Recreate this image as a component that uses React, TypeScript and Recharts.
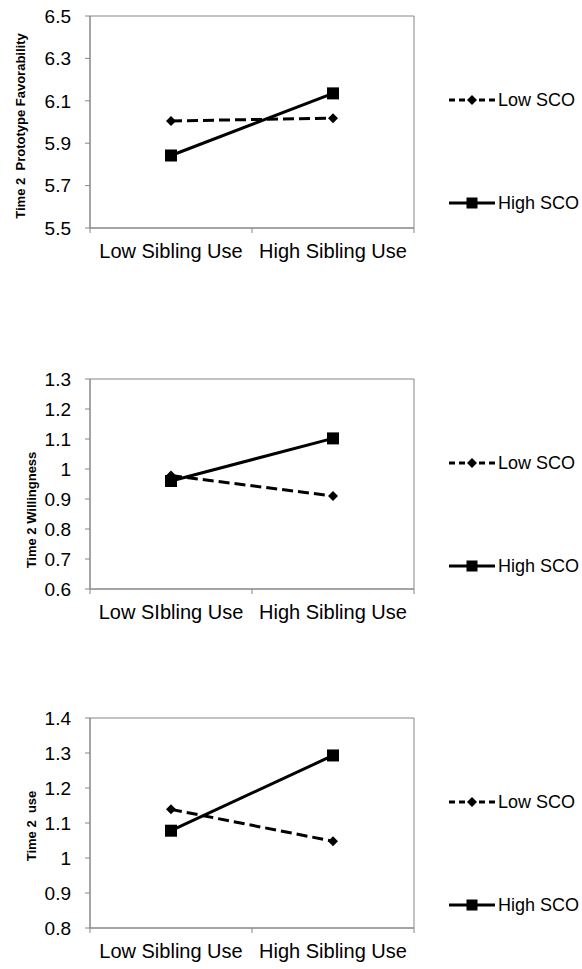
import React from 'react';
import { LineChart, Line, XAxis, YAxis, ReferenceArea, Legend, Label } from 'recharts';

// categories (panel 2 really says "SIbling" in the source)
const favCategories = ['Low Sibling Use', 'High Sibling Use'];
const willCategories = ['Low SIbling Use', 'High Sibling Use'];
const useCategories = ['Low Sibling Use', 'High Sibling Use'];

const seriesNames = ['Low SCO', 'High SCO'];

// series values
const favLowSco = [6.005, 6.018];
const favHighSco = [5.842, 6.135];
const willLowSco = [0.978, 0.91];
const willHighSco = [0.96, 1.102];
const useLowSco = [1.139, 1.048];
const useHighSco = [1.078, 1.293];

// tick labels
const favTicks = [5.5, 5.7, 5.9, 6.1, 6.3, 6.5];
const willTicks = [0.6, 0.7, 0.8, 0.9, 1, 1.1, 1.2, 1.3];
const useTicks = [0.8, 0.9, 1, 1.1, 1.2, 1.3, 1.4];

const FONT = '"Liberation Sans", Arial, Helvetica, sans-serif';
const AXIS = '#868686';
const TICK_SIZE = 5;
const X_TICK_MARGIN = 11;

const buildRows = (cats: string[], low: number[], high: number[]) =>
  cats.map((c, i) => ({ name: c, low: low[i], high: high[i] }));

const Diamond = (props: any) => {
  const { cx, cy } = props;
  if (cx == null || cy == null) return null;
  const r = 5;
  return <path d={`M${cx},${cy - r}L${cx + r},${cy}L${cx},${cy + r}L${cx - r},${cy}Z`} fill="#000" />;
};

const Square = (props: any) => {
  const { cx, cy } = props;
  if (cx == null || cy == null) return null;
  return <rect x={cx - 6} y={cy - 6} width={12} height={12} fill="#000" />;
};

// excel style: label in the middle of the band, tick marks on the band edges
const BandTick = (props: any) => {
  const { x, y, payload, index, width, visibleTicksCount } = props;
  const half = payload?.offset || width / visibleTicksCount / 2;
  const axisY = y - TICK_SIZE - X_TICK_MARGIN;
  return (
    <g>
      <line x1={x - half} x2={x - half} y1={axisY} y2={axisY + TICK_SIZE} stroke={AXIS} />
      {index === visibleTicksCount - 1 && (
        <line x1={x + half} x2={x + half} y1={axisY} y2={axisY + TICK_SIZE} stroke={AXIS} />
      )}
      <text x={x} y={y} dy="0.71em" textAnchor="middle" fontSize={20} fill="#000" fontFamily={FONT}>
        {payload.value}
      </text>
    </g>
  );
};

const fmt = (v: number) => String(Number(v.toFixed(1)));

const LegendBox = () => (
  <div style={{ fontFamily: FONT, fontSize: 18, color: '#000', width: 140 }}>
    {seriesNames.map((name, i) => (
      <div key={name} style={{ display: 'flex', alignItems: 'center', height: 22, marginBottom: i === 0 ? 81 : 0 }}>
        <svg width={48} height={14} style={{ display: 'block' }}>
          <line x1={0} x2={46} y1={7} y2={7} stroke="#000" strokeWidth={3} strokeDasharray={i === 0 ? '6 4' : undefined} />
          {i === 0 ? (
            <path d="M23,2L28,7L23,12L18,7Z" fill="#000" />
          ) : (
            <rect x={17.5} y={1.5} width={11} height={11} fill="#000" />
          )}
        </svg>
        <span style={{ marginLeft: 1, lineHeight: '22px' }}>{name}</span>
      </div>
    ))}
  </div>
);

interface PanelProps {
  top: number;
  plotHeight: number;
  rows: { name: string; low: number; high: number }[];
  ticks: number[];
  title: string;
  titleX: number;
  titleShift: number;
}

const Panel: React.FC<PanelProps> = ({ top, plotHeight, rows, ticks, title, titleX, titleShift }) => {
  const lo = ticks[0];
  const hi = ticks[ticks.length - 1];
  const marginTop = 16;
  return (
    <div style={{ position: 'absolute', left: 0, top }}>
      <LineChart
        width={582}
        height={marginTop + plotHeight + 50}
        data={rows}
        margin={{ top: marginTop, right: 168, bottom: 0, left: 0 }}
      >
        <ReferenceArea y1={lo} y2={hi} stroke={AXIS} fill="none" ifOverflow="visible" />
        <XAxis
          dataKey="name"
          scale="band"
          height={50}
          stroke={AXIS}
          tickLine={false}
          tickSize={TICK_SIZE}
          tickMargin={X_TICK_MARGIN}
          tick={<BandTick />}
          interval={0}
        />
        <YAxis
          width={90}
          type="number"
          domain={[lo, hi]}
          ticks={ticks}
          tickFormatter={fmt}
          stroke={AXIS}
          tickSize={TICK_SIZE}
          tickMargin={14}
          tick={{ fill: '#000', fontSize: 19, fontFamily: FONT }}
          interval={0}
        >
          <Label
            content={(p: any) => {
              const vb = p.viewBox || { y: marginTop, height: plotHeight };
              const cy = vb.y + vb.height / 2 + titleShift;
              return (
                <text
                  x={titleX}
                  y={cy}
                  transform={`rotate(-90 ${titleX} ${cy})`}
                  textAnchor="middle"
                  fontSize={13}
                  fontWeight="bold"
                  fontFamily={FONT}
                  fill="#000"
                  style={{ whiteSpace: 'pre' }}
                >
                  {title}
                </text>
              );
            }}
          />
        </YAxis>
        <Legend
          layout="horizontal"
          align="center"
          verticalAlign="middle"
          content={<LegendBox />}
          wrapperStyle={{ left: 449, top: marginTop + 73, width: 140, height: 130 }}
        />
        <Line
          dataKey="low"
          name={seriesNames[0]}
          stroke="#000"
          strokeWidth={3}
          strokeDasharray="11 5"
          dot={<Diamond />}
          activeDot={false}
          isAnimationActive={false}
        />
        <Line
          dataKey="high"
          name={seriesNames[1]}
          stroke="#000"
          strokeWidth={3}
          dot={<Square />}
          activeDot={false}
          isAnimationActive={false}
        />
      </LineChart>
    </div>
  );
};

export default function App() {
  return (
    <div style={{ position: 'absolute', left: 0, top: 0, width: 582, height: 969, background: '#fff', overflow: 'hidden' }}>
      <Panel
        top={0}
        plotHeight={212}
        rows={buildRows(favCategories, favLowSco, favHighSco)}
        ticks={favTicks}
        title="Time 2  Prototype Favorability"
        titleX={24.5}
        titleShift={4}
      />
      <Panel
        top={363}
        plotHeight={210}
        rows={buildRows(willCategories, willLowSco, willHighSco)}
        ticks={willTicks}
        title="Time 2 Willingness"
        titleX={35.5}
        titleShift={26}
      />
      <Panel
        top={702}
        plotHeight={210}
        rows={buildRows(useCategories, useLowSco, useHighSco)}
        ticks={useTicks}
        title="Time 2  use"
        titleX={36}
        titleShift={3}
      />
    </div>
  );
}
